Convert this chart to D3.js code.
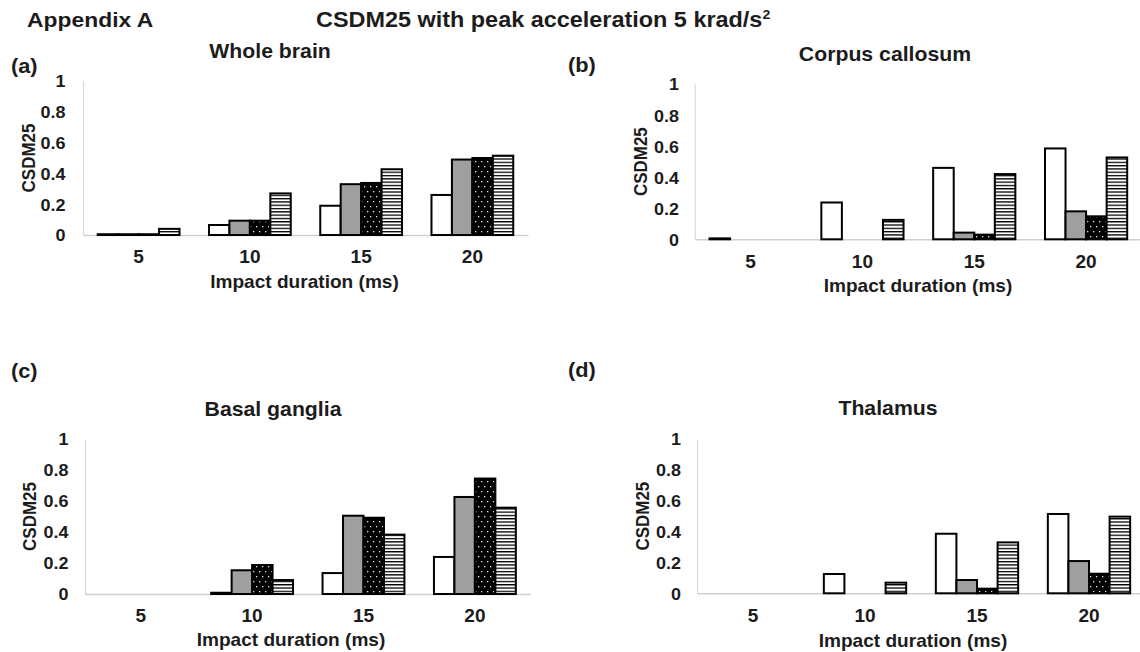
<!DOCTYPE html>
<html>
<head>
<meta charset="utf-8">
<script src="https://cdn.jsdelivr.net/npm/d3@7"></script>
<style>
  body { margin: 0; background: #fff; }
  svg { display: block; }
  text { font-family: "Liberation Sans", Arial, sans-serif; font-weight: bold; fill: #1c1c1c; }
</style>
</head>
<body>
<svg id="chart" width="1140" height="652"></svg>
<script>
// ---- data ----
const categories = ["5", "10", "15", "20"];
const yTicks = [0, 0.2, 0.4, 0.6, 0.8, 1];
const yTickLabels = ["0", "0.2", "0.4", "0.6", "0.8", "1"];
const seriesNames = ["open", "grey", "dotted", "striped"];

// rows follow seriesNames, columns follow categories
const wholeBrain = [
  [0.005, 0.065, 0.19, 0.26],
  [0.005, 0.093, 0.33, 0.49],
  [0.005, 0.093, 0.338, 0.50],
  [0.04, 0.27, 0.427, 0.515]
];
const corpusCallosum = [
  [0.006, 0.237, 0.46, 0.585],
  [0, 0, 0.043, 0.18],
  [0, 0, 0.03, 0.148],
  [0, 0.125, 0.42, 0.527]
];
const basalGanglia = [
  [0, 0.008, 0.135, 0.239],
  [0, 0.153, 0.505, 0.626],
  [0, 0.187, 0.492, 0.745],
  [0, 0.09, 0.383, 0.557]
];
const thalamus = [
  [0, 0.125, 0.386, 0.514],
  [0, 0, 0.086, 0.209],
  [0, 0, 0.03, 0.127],
  [0, 0.069, 0.33, 0.497]
];

const panelTitles = ["Whole brain", "Corpus callosum", "Basal ganglia", "Thalamus"];
const panelLetters = ["(a)", "(b)", "(c)", "(d)"];
const panelData = [wholeBrain, corpusCallosum, basalGanglia, thalamus];
const xTitle = "Impact duration (ms)";
const yTitle = "CSDM25";

// ---- layout ----
const SX = 1.09; // horizontal text stretch used throughout the figure
const layout = [
  { x0: 83, x1: 528, yTop: 81, yBot: 235, tickRight: 65.5, yTitleX: 35, titleX: 270, titleY: 57.5,
    letterX: 11, letterY: 73, xTitleX: 304.5, xTitleY: 287.5 },
  { x0: 694.7, x1: 1142, yTop: 84, yBot: 239.3, tickRight: 679, yTitleX: 647, titleX: 885, titleY: 61,
    letterX: 568, letterY: 72, xTitleX: 918, xTitleY: 292.3 },
  { x0: 85, x1: 530.6, yTop: 439, yBot: 594, tickRight: 68.4, yTitleX: 36.4, titleX: 273, titleY: 416,
    letterX: 11, letterY: 378, xTitleX: 291, xTitleY: 645.7 },
  { x0: 697, x1: 1145, yTop: 439, yBot: 593.3, tickRight: 681, yTitleX: 649, titleX: 888, titleY: 415,
    letterX: 568, letterY: 377, xTitleX: 913, xTitleY: 646.7 }
];

const svg = d3.select("#chart");
svg.append("rect").attr("width", 1140).attr("height", 652).attr("fill", "#fff");

// ---- fill patterns ----
const defs = svg.append("defs");
const dots = defs.append("pattern").attr("id", "pat-dotted")
  .attr("patternUnits", "userSpaceOnUse").attr("width", 6).attr("height", 10);
dots.append("rect").attr("width", 6).attr("height", 10).attr("fill", "#000");
dots.append("rect").attr("x", 1).attr("y", 1).attr("width", 1.3).attr("height", 1.3).attr("fill", "#e6e6e6");
dots.append("rect").attr("x", 4).attr("y", 6).attr("width", 1.3).attr("height", 1.3).attr("fill", "#e6e6e6");

const stripes = defs.append("pattern").attr("id", "pat-striped")
  .attr("patternUnits", "userSpaceOnUse").attr("width", 8).attr("height", 3.3);
stripes.append("rect").attr("width", 8).attr("height", 3.3).attr("fill", "#fff");
stripes.append("rect").attr("width", 8).attr("height", 1.3).attr("fill", "#000");

const fills = { open: "#fff", grey: "#9f9f9f", dotted: "url(#pat-dotted)", striped: "url(#pat-striped)" };

// helper: stretched text placed at (x, y)
function label(parent, str, x, y, size, anchor) {
  return parent.append("text")
    .attr("transform", `translate(${x},${y}) scale(${SX},1)`)
    .attr("text-anchor", anchor || "start")
    .attr("font-size", size)
    .text(str);
}

// ---- figure headings ----
label(svg, "Appendix A", 27, 26.7, 21);
const mainTitle = label(svg, "CSDM25 with peak acceleration 5 krad/s", 316, 26.7, 21.5);
mainTitle.append("tspan").attr("font-size", 13).attr("dy", -8).text("2");

// ---- panels ----
panelData.forEach((rows, p) => {
  const L = layout[p];
  const g = svg.append("g");

  const x = d3.scaleBand().domain(categories).range([L.x0, L.x1])
    .paddingInner(0.265).paddingOuter(0.1325);
  const xs = d3.scaleBand().domain(seriesNames).range([0, x.bandwidth()]);
  const y = d3.scaleLinear().domain([0, 1]).range([L.yBot, L.yTop]);

  // y axis
  const yAxisG = g.append("g").attr("transform", `translate(${L.x0},0)`)
    .call(d3.axisLeft(y).tickValues(yTicks).tickSize(0).tickSizeOuter(0)
      .tickFormat((d, i) => yTickLabels[i]));
  yAxisG.select(".domain").attr("stroke", "#d9d9d9").attr("stroke-width", 1.2);
  yAxisG.selectAll(".tick text")
    .attr("x", 0).attr("dy", "0.36em")
    .attr("transform", `translate(${L.tickRight - L.x0},0) scale(${SX},1)`)
    .attr("text-anchor", "end")
    .attr("font-size", 16.5).attr("font-family", null).attr("fill", null);

  // x axis
  const xAxisG = g.append("g").attr("transform", `translate(0,${L.yBot})`)
    .call(d3.axisBottom(x).tickSize(0).tickSizeOuter(0));
  xAxisG.select(".domain").attr("stroke", "#d0d0d0").attr("stroke-width", 1.5);
  xAxisG.selectAll(".tick text")
    .attr("y", 28.5).attr("dy", 0)
    .attr("transform", `scale(${SX},1)`)
    .attr("font-size", 17.5).attr("font-family", null).attr("fill", null);

  // bars
  seriesNames.forEach((s, si) => {
    g.append("g").selectAll("rect")
      .data(categories.map((c, ci) => ({ c, v: rows[si][ci] })).filter(d => d.v > 0))
      .join("rect")
      .attr("x", d => x(d.c) + xs(s))
      .attr("y", d => y(d.v))
      .attr("width", xs.bandwidth())
      .attr("height", d => y(0) - y(d.v))
      .attr("fill", fills[s])
      .attr("stroke", "#000")
      .attr("stroke-width", 2);
  });

  // titles and labels
  label(g, panelTitles[p], L.titleX, L.titleY, 19.5, "middle");
  label(g, panelLetters[p], L.letterX, L.letterY, 20);
  label(g, xTitle, L.xTitleX, L.xTitleY, 17.5, "middle");
  g.append("text")
    .attr("transform", `translate(${L.yTitleX},${(L.yTop + L.yBot) / 2}) scale(${SX},1) rotate(-90)`)
    .attr("text-anchor", "middle")
    .attr("font-size", 17)
    .text(yTitle);
});
</script>
</body>
</html>
